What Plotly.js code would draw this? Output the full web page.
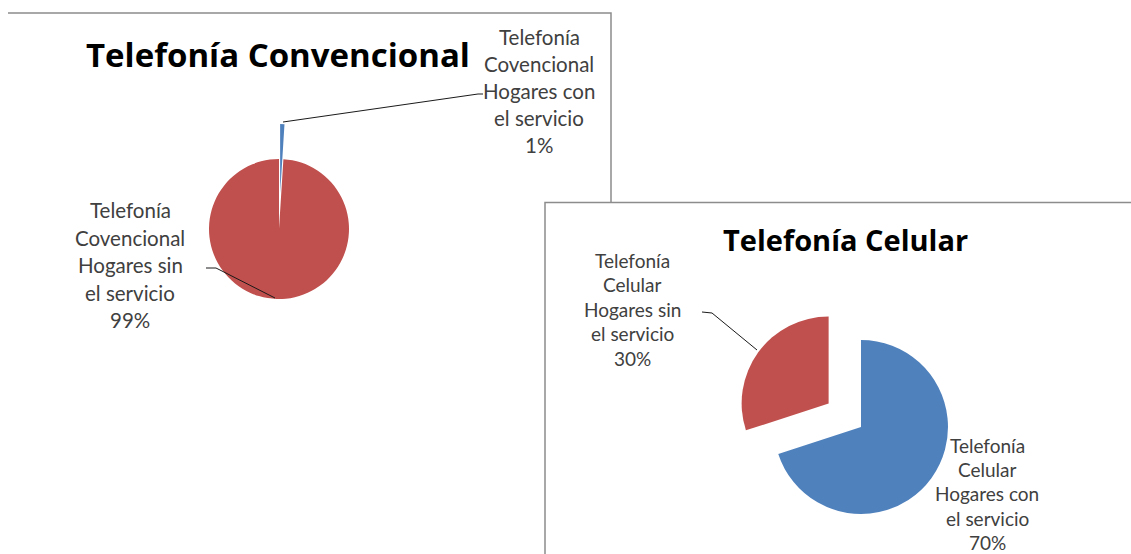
<!DOCTYPE html>
<html>
<head>
<meta charset="utf-8">
<script src="https://cdn.plot.ly/plotly-3.0.1.min.js"></script>
<style>
  html, body { margin: 0; padding: 0; background: #fff; }
  #chart { width: 1131px; height: 554px; }
</style>
</head>
<body>
<div id="chart"></div>
<script>
// ---------- DATA ----------
const convTitle = "Telefonía Convencional";
const convLabelLines = [
  ["Telefonía", "Covencional", "Hogares con", "el servicio"],
  ["Telefonía", "Covencional", "Hogares sin", "el servicio"]
];
const convValues = [1, 99];

const celTitle = "Telefonía Celular";
const celLabelLines = [
  ["Telefonía", "Celular", "Hogares con", "el servicio"],
  ["Telefonía", "Celular", "Hogares sin", "el servicio"]
];
const celValues = [70, 30];

// ---------- STYLE / LAYOUT ----------
const W = 1131, H = 554;
const px = x => x / W;
const py = y => 1 - y / H;
const BLUE = "#4F81BD", RED = "#C0504D";
const FONT = "Lato, 'Open Sans', sans-serif";
const TITLE_FONT = "'Open Sans', Lato, sans-serif";
const LABEL_COLOR = "#404040";

const convLabels = convLabelLines.map(l => l.join(" "));
const celLabels = celLabelLines.map(l => l.join(" "));

function pct(values) {
  const s = values.reduce((a, b) => a + b, 0);
  return values.map(v => Math.round(v / s * 100) + "%");
}

const data = [
  {
    type: "pie", values: convValues, labels: convLabels,
    sort: false, direction: "clockwise", rotation: 0,
    pull: [0.5, 0],
    marker: { colors: [BLUE, RED], line: { width: 0 } },
    textinfo: "none", hoverinfo: "none", showlegend: false,
    domain: { x: [px(174), px(384)], y: [py(334), py(124)] }
  },
  {
    type: "pie", values: celValues, labels: celLabels,
    sort: false, direction: "clockwise", rotation: 0,
    pull: [0, 0.46],
    marker: { colors: [BLUE, RED], line: { width: 0 } },
    textinfo: "none", hoverinfo: "none", showlegend: false,
    domain: { x: [px(734), px(988)], y: [0, py(300)] }
  }
];

const annotations = [];
function addLabel(lines, cx, y0, dy, size) {
  lines.forEach((t, i) => {
    annotations.push({
      xref: "paper", yref: "paper", x: px(cx), y: py(y0 + i * dy),
      xanchor: "center", yanchor: "middle", showarrow: false,
      text: t, font: { family: FONT, size: size, color: LABEL_COLOR }
    });
  });
}
const convPct = pct(convValues), celPct = pct(celValues);
addLabel(convLabelLines[0].concat([convPct[0]]), 539, 37, 27, 20.5);
addLabel(convLabelLines[1].concat([convPct[1]]), 130, 210, 27.5, 20.5);
addLabel(celLabelLines[1].concat([celPct[1]]), 632, 260, 24.6, 19);
addLabel(celLabelLines[0].concat([celPct[0]]), 987, 445, 24.4, 19);

annotations.push({
  xref: "paper", yref: "paper", x: px(278), y: py(55),
  xanchor: "center", yanchor: "middle", showarrow: false,
  text: "<b>" + convTitle + "</b>", font: { family: TITLE_FONT, size: 33, color: "#000" }
});
annotations.push({
  xref: "paper", yref: "paper", x: px(845), y: py(240),
  xanchor: "center", yanchor: "middle", showarrow: false,
  text: "<b>" + celTitle + "</b>", font: { family: TITLE_FONT, size: 29, color: "#000" }
});

function pathPx(pts) {
  return pts.map((p, i) => (i ? "L" : "M") + px(p[0]) + "," + py(p[1])).join(" ");
}
const FRAME = { color: "#8c8c8c", width: 1.5 };
const LEADER = { color: "#1a1a1a", width: 1 };
const shapes = [
  { type: "path", xref: "paper", yref: "paper", path: pathPx([[8, 13], [611, 13], [611, 202]]), line: FRAME },
  { type: "path", xref: "paper", yref: "paper", path: pathPx([[1131, 202.5], [545, 202.5], [545, 554]]), line: FRAME },
  { type: "path", xref: "paper", yref: "paper", path: pathPx([[283, 122], [478, 94], [483, 94]]), line: LEADER },
  { type: "path", xref: "paper", yref: "paper", path: pathPx([[206, 268], [216, 268], [275, 298]]), line: LEADER },
  { type: "path", xref: "paper", yref: "paper", path: pathPx([[702, 312], [712, 313], [757, 350]]), line: LEADER }
];

const layout = {
  width: W, height: H,
  margin: { l: 0, r: 0, t: 0, b: 0 },
  paper_bgcolor: "#fff",
  showlegend: false,
  annotations: annotations,
  shapes: shapes
};

Plotly.newPlot("chart", data, layout, { displayModeBar: false, staticPlot: true });
</script>
</body>
</html>
